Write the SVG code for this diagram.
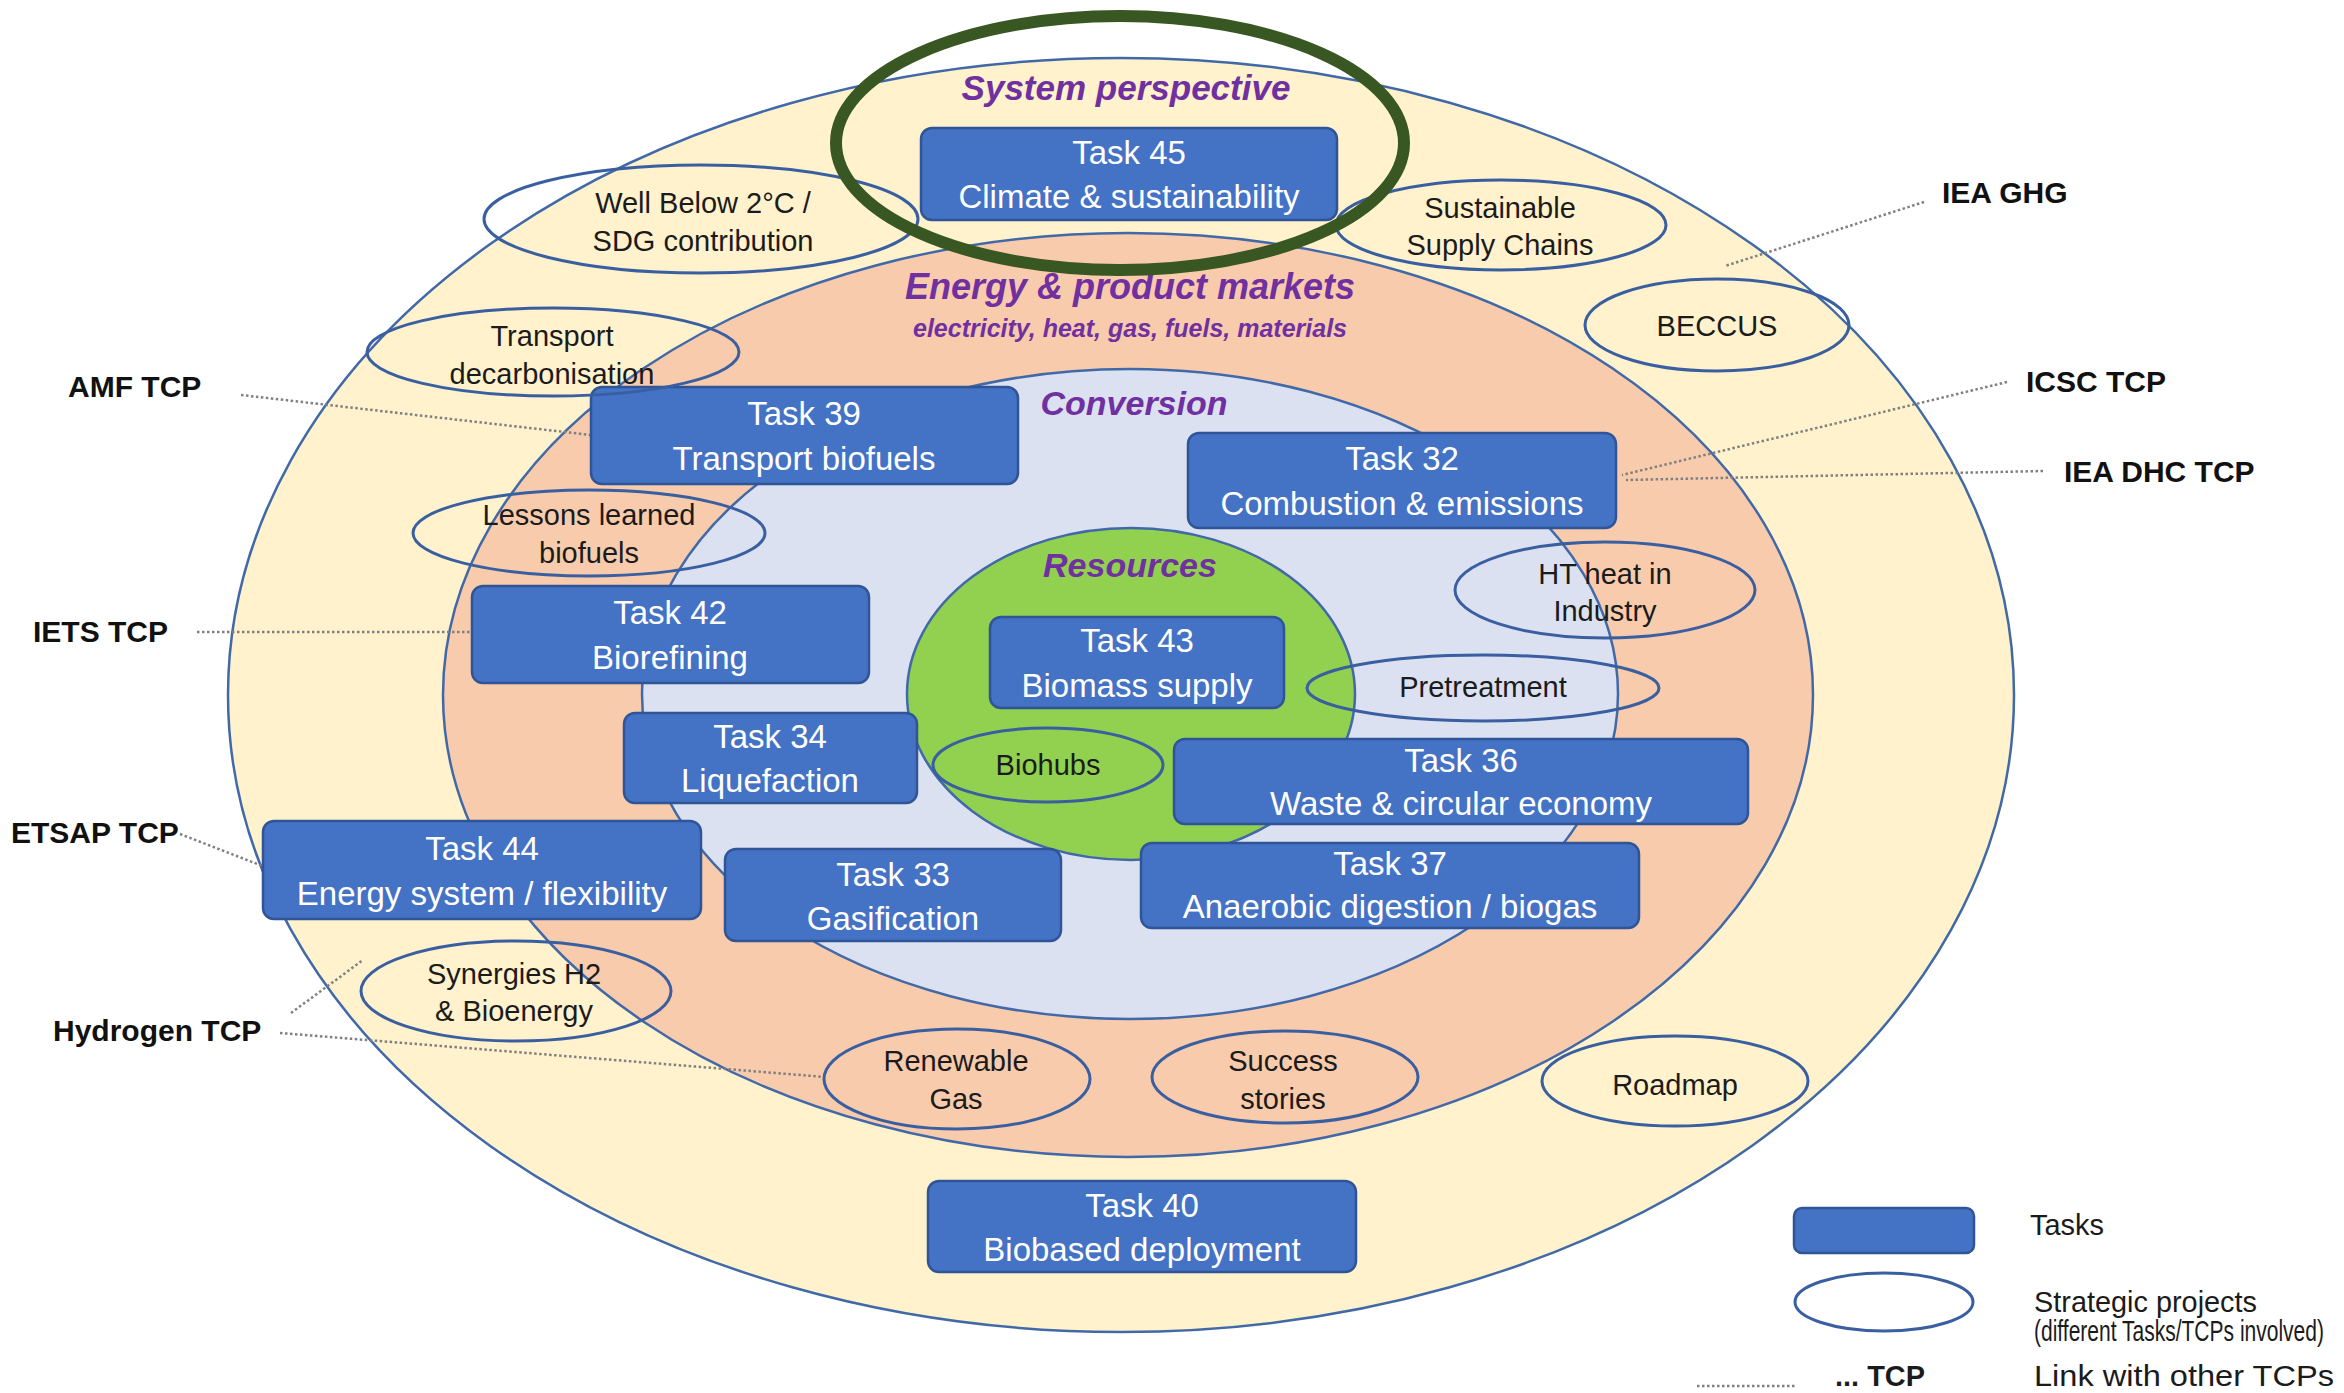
<svg xmlns="http://www.w3.org/2000/svg" width="2344" height="1393" viewBox="0 0 2344 1393">
<style>
text{font-family:"Liberation Sans",Arial,sans-serif}
.ring{stroke:#4169A8;stroke-width:2.5}
.task rect{fill:#4472C4;stroke:#2F5597;stroke-width:2.5}
.task text{fill:#FFFFFF;font-size:33px;text-anchor:middle}
.proj ellipse{fill:none;stroke:#3A5FA0;stroke-width:3}
.proj text{fill:#1B1B1B;font-size:29px;text-anchor:middle}
.title{fill:#7030A0;font-weight:bold;font-style:italic;text-anchor:middle}
.tcp text{font-weight:bold;font-size:30px;fill:#111111}
.link{stroke:#808080;stroke-width:2.5;stroke-dasharray:2.5 2.5;fill:none}
.legend text{fill:#1B1B1B;font-size:29px}
</style>
<rect width="2344" height="1393" fill="#FFFFFF"/>

<g id="rings">
<ellipse id="ring-system" class="ring" cx="1121" cy="695" rx="893" ry="637" fill="#FFF2CC"/>
<ellipse id="ring-markets" class="ring" cx="1128" cy="695" rx="685" ry="462" fill="#F8CBAD"/>
<ellipse id="ring-conversion" class="ring" cx="1130" cy="694" rx="488" ry="325" fill="#DCE1F1"/>
<ellipse id="ring-resources" class="ring" cx="1131" cy="694" rx="224" ry="166" fill="#92D050"/>
</g>

<g id="ring-titles">
<text class="title" x="1126" y="100" font-size="35">System perspective</text>
<text class="title" x="1130" y="299" font-size="36">Energy &amp; product markets</text>
<text class="title" x="1130" y="337" font-size="25">electricity, heat, gas, fuels, materials</text>
<text class="title" x="1134" y="415" font-size="34">Conversion</text>
<text class="title" x="1130" y="577" font-size="34">Resources</text>
</g>

<g id="connectors">
<line class="link" x1="241" y1="395" x2="591" y2="435"/>
<line class="link" x1="197" y1="632" x2="472" y2="632"/>
<line class="link" x1="180" y1="834" x2="265" y2="867"/>
<line class="link" x1="291" y1="1013" x2="363" y2="960"/>
<line class="link" x1="280" y1="1033" x2="825" y2="1077"/>
<line class="link" x1="1924" y1="202" x2="1725" y2="266"/>
<line class="link" x1="2007" y1="382" x2="1622" y2="475"/>
<line class="link" x1="2043" y1="471" x2="1626" y2="480"/>
</g>

<g id="task45" class="task"><rect x="921" y="128" width="416" height="92" rx="11"/><text x="1129" y="164">Task 45</text><text x="1129" y="208">Climate &amp; sustainability</text></g>
<g id="task39" class="task"><rect x="591" y="387" width="427" height="97" rx="11"/><text x="804" y="425">Task 39</text><text x="804" y="470">Transport biofuels</text></g>
<g id="task32" class="task"><rect x="1188" y="433" width="428" height="95" rx="11"/><text x="1402" y="470">Task 32</text><text x="1402" y="515">Combustion &amp; emissions</text></g>
<g id="task42" class="task"><rect x="472" y="586" width="397" height="97" rx="11"/><text x="670" y="624">Task 42</text><text x="670" y="669">Biorefining</text></g>
<g id="task43" class="task"><rect x="990" y="617" width="294" height="91" rx="11"/><text x="1137" y="652">Task 43</text><text x="1137" y="697">Biomass supply</text></g>
<g id="task34" class="task"><rect x="624" y="713" width="293" height="90" rx="11"/><text x="770" y="748">Task 34</text><text x="770" y="792">Liquefaction</text></g>
<g id="task36" class="task"><rect x="1174" y="739" width="574" height="85" rx="11"/><text x="1461" y="772">Task 36</text><text x="1461" y="815">Waste &amp; circular economy</text></g>
<g id="task44" class="task"><rect x="263" y="821" width="438" height="98" rx="11"/><text x="482" y="860">Task 44</text><text x="482" y="905">Energy system / flexibility</text></g>
<g id="task33" class="task"><rect x="725" y="849" width="336" height="92" rx="11"/><text x="893" y="886">Task 33</text><text x="893" y="930">Gasification</text></g>
<g id="task37" class="task"><rect x="1141" y="843" width="498" height="85" rx="11"/><text x="1390" y="875">Task 37</text><text x="1390" y="918">Anaerobic digestion / biogas</text></g>
<g id="task40" class="task"><rect x="928" y="1181" width="428" height="91" rx="11"/><text x="1142" y="1217">Task 40</text><text x="1142" y="1261">Biobased deployment</text></g>

<g id="proj-wellbelow" class="proj"><ellipse cx="701" cy="219" rx="217" ry="54"/><text x="703" y="213">Well Below 2°C /</text><text x="703" y="251">SDG contribution</text></g>
<g id="proj-supply" class="proj"><ellipse cx="1501" cy="225" rx="165" ry="45"/><text x="1500" y="218">Sustainable</text><text x="1500" y="255">Supply Chains</text></g>
<g id="proj-transport" class="proj"><ellipse cx="553" cy="352" rx="186" ry="44"/><text x="552" y="346">Transport</text><text x="552" y="384">decarbonisation</text></g>
<g id="proj-beccus" class="proj"><ellipse cx="1717" cy="325" rx="132" ry="46"/><text x="1717" y="336">BECCUS</text></g>
<g id="proj-lessons" class="proj"><ellipse cx="589" cy="533" rx="176" ry="43"/><text x="589" y="525">Lessons learned</text><text x="589" y="563">biofuels</text></g>
<g id="proj-htheat" class="proj"><ellipse cx="1605" cy="590" rx="150" ry="48"/><text x="1605" y="584">HT heat in</text><text x="1605" y="621">Industry</text></g>
<g id="proj-pretreatment" class="proj"><ellipse cx="1483" cy="688" rx="176" ry="33"/><text x="1483" y="697">Pretreatment</text></g>
<g id="proj-biohubs" class="proj"><ellipse cx="1048" cy="765" rx="115" ry="37"/><text x="1048" y="775">Biohubs</text></g>
<g id="proj-synergies" class="proj"><ellipse cx="516" cy="991" rx="155" ry="50"/><text x="514" y="984">Synergies H2</text><text x="514" y="1021">&amp; Bioenergy</text></g>
<g id="proj-rengas" class="proj"><ellipse cx="957" cy="1079" rx="133" ry="50"/><text x="956" y="1071">Renewable</text><text x="956" y="1109">Gas</text></g>
<g id="proj-success" class="proj"><ellipse cx="1285" cy="1077" rx="133" ry="46"/><text x="1283" y="1071">Success</text><text x="1283" y="1109">stories</text></g>
<g id="proj-roadmap" class="proj"><ellipse cx="1675" cy="1081" rx="133" ry="45"/><text x="1675" y="1095">Roadmap</text></g>

<g id="tcp-amf" class="tcp"><text x="68" y="397">AMF TCP</text></g>
<g id="tcp-iets" class="tcp"><text x="33" y="642">IETS TCP</text></g>
<g id="tcp-etsap" class="tcp"><text x="11" y="843">ETSAP TCP</text></g>
<g id="tcp-hydrogen" class="tcp"><text x="53" y="1041">Hydrogen TCP</text></g>
<g id="tcp-ieaghg" class="tcp"><text x="1942" y="203">IEA GHG</text></g>
<g id="tcp-icsc" class="tcp"><text x="2026" y="392">ICSC TCP</text></g>
<g id="tcp-ieadhc" class="tcp"><text x="2064" y="482">IEA DHC TCP</text></g>

<g id="legend" class="legend">
<rect x="1794" y="1208" width="180" height="45" rx="8" fill="#4472C4" stroke="#2F5597" stroke-width="2.5"/>
<ellipse cx="1884" cy="1302" rx="89" ry="29" fill="none" stroke="#3A5FA0" stroke-width="3"/>
<line class="link" x1="1697" y1="1386" x2="1796" y2="1386"/>
<text x="2030" y="1235" textLength="74" lengthAdjust="spacingAndGlyphs">Tasks</text>
<text x="2034" y="1312" textLength="223" lengthAdjust="spacingAndGlyphs">Strategic projects</text>
<text x="2324" y="1341" font-size="20" text-anchor="end" textLength="290" lengthAdjust="spacingAndGlyphs">(different Tasks/TCPs involved)</text>
<text x="1835" y="1386" font-weight="bold" font-size="30" textLength="90" lengthAdjust="spacingAndGlyphs">... TCP</text>
<text x="2034" y="1386" textLength="300" lengthAdjust="spacingAndGlyphs">Link with other TCPs</text>
</g>

<g id="highlight">
<ellipse cx="1120" cy="143" rx="284" ry="127" fill="none" stroke="#385723" stroke-width="12"/>
</g>
</svg>
